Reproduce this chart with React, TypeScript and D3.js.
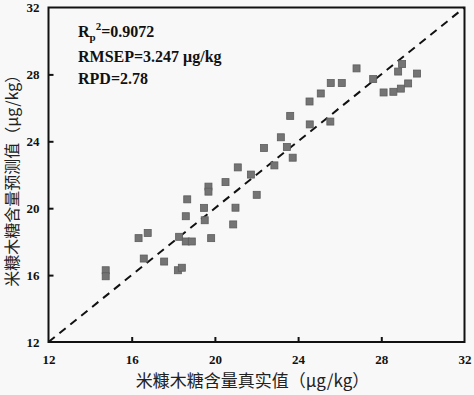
import React, { useEffect, useRef } from "react";
import * as d3 from "d3";

// measured (true) values, x
const actual = [
  14.75, 14.75, 16.33, 16.77, 16.58, 17.56, 18.22, 18.41, 18.28, 18.6,
  18.89, 19.82, 18.6, 18.67, 19.48, 19.51, 19.69, 19.69, 20.51, 21.1,
  20.99, 20.88, 22.01, 21.73, 22.36, 22.86, 23.17, 23.46, 23.74, 23.62,
  24.55, 24.56, 25.09, 25.55, 25.57, 26.1, 26.81, 27.61, 28.11, 28.58,
  28.94, 29.29, 28.81, 29.0, 29.72,
];
// predicted values, y
const predicted = [
  16.29, 15.93, 18.21, 18.52, 16.99, 16.81, 16.29, 16.44, 18.29, 18.01,
  18.01, 18.21, 19.52, 20.53, 20.02, 19.28, 21.29, 20.99, 21.56, 22.44,
  20.03, 19.03, 20.8, 22.01, 23.6, 22.56, 24.24, 23.66, 23.02, 25.52,
  26.38, 25.01, 26.86, 25.18, 27.48, 27.48, 28.36, 27.72, 26.92, 26.96,
  27.15, 27.46, 28.17, 28.62, 28.05,
];
const ticks = [12, 16, 20, 24, 28, 32];
const stats = ["RMSEP=3.247 μg/kg", "RPD=2.78"];

const W = 474;
const H = 395;
const m = { left: 48.5, right: 9.5, top: 7.5, bottom: 53 };

export default function App() {
  const ref = useRef<SVGSVGElement>(null);

  useEffect(() => {
    const svg = d3.select(ref.current);
    svg.selectAll("*").remove();

    const x = d3.scaleLinear().domain([12, 32]).range([m.left, W - m.right]);
    const y = d3.scaleLinear().domain([12, 32]).range([H - m.bottom, m.top]);
    const font = "'Liberation Serif', 'Times New Roman', serif";

    svg.append("rect").attr("width", W).attr("height", H).attr("fill", "#f8f8f8");

    // 1:1 line
    svg.append("line")
      .attr("x1", x(12)).attr("y1", y(12))
      .attr("x2", x(32)).attr("y2", y(32))
      .attr("stroke", "#111")
      .attr("stroke-width", 2)
      .attr("stroke-dasharray", "8,6");

    // points
    svg.append("g")
      .selectAll("rect")
      .data(actual)
      .enter()
      .append("rect")
      .attr("x", (d) => x(d) - 3.5)
      .attr("y", (d, i) => y(predicted[i]) - 3.5)
      .attr("width", 7)
      .attr("height", 7)
      .attr("fill", "#747474")
      .attr("stroke", "#5c5c5c")
      .attr("stroke-width", 0.8);

    // frame
    svg.append("rect")
      .attr("x", x(12)).attr("y", y(32))
      .attr("width", x(32) - x(12)).attr("height", y(12) - y(32))
      .attr("fill", "none")
      .attr("stroke", "#111")
      .attr("stroke-width", 2);

    const xAxis = svg.append("g")
      .attr("transform", `translate(0,${y(12)})`)
      .call(d3.axisBottom(x).tickValues(ticks).tickSizeInner(-5).tickSizeOuter(0).tickPadding(13));
    const yAxis = svg.append("g")
      .attr("transform", `translate(${x(12)},0)`)
      .call(d3.axisLeft(y).tickValues(ticks).tickSizeInner(-5).tickSizeOuter(0).tickPadding(9));

    [xAxis, yAxis].forEach((g) => {
      g.select(".domain").remove();
      g.selectAll("line").attr("stroke", "#111").attr("stroke-width", 2);
      g.selectAll("text")
        .attr("fill", "#111")
        .style("font-family", font)
        .style("font-size", "13px")
        .style("font-weight", "bold");
    });
    xAxis.selectAll(".tick").filter((d) => d === 12 || d === 32).select("line").remove();
    yAxis.selectAll(".tick").filter((d) => d === 12 || d === 32).select("line").remove();

    // annotation
    const ann = svg.append("g")
      .style("font-family", font)
      .style("font-size", "16px")
      .style("font-weight", "bold")
      .attr("fill", "#111");
    const t1 = ann.append("text").attr("x", 78).attr("y", 37);
    t1.append("tspan").text("R");
    t1.append("tspan").attr("dy", 4).style("font-size", "11px").text("p");
    t1.append("tspan").attr("dy", -11).style("font-size", "11px").text("2");
    t1.append("tspan").attr("dy", 7).text("=0.9072");
    stats.forEach((s, i) => {
      ann.append("text").attr("x", 78).attr("y", 62 + i * 22).text(s);
    });

    // axis titles
    svg.append("text")
      .attr("x", (x(12) + x(32)) / 2 - 4)
      .attr("y", 387)
      .attr("text-anchor", "middle")
      .attr("fill", "#222")
      .style("font-family", "'Noto Sans CJK SC', serif")
      .style("font-size", "17px")
      .text("米糠木糖含量真实值（μg/kg）");
    svg.append("text")
      .attr("transform", `translate(18,${(y(12) + y(32)) / 2 + 2}) rotate(-90)`)
      .attr("text-anchor", "middle")
      .attr("fill", "#222")
      .style("font-family", "'Noto Sans CJK SC', serif")
      .style("font-size", "16px")
      .text("米糠木糖含量预测值（μg/kg）");
  }, []);

  return (
    <svg
      ref={ref}
      width={W}
      height={H}
      style={{ position: "absolute", left: 0, top: 0 }}
    />
  );
}
